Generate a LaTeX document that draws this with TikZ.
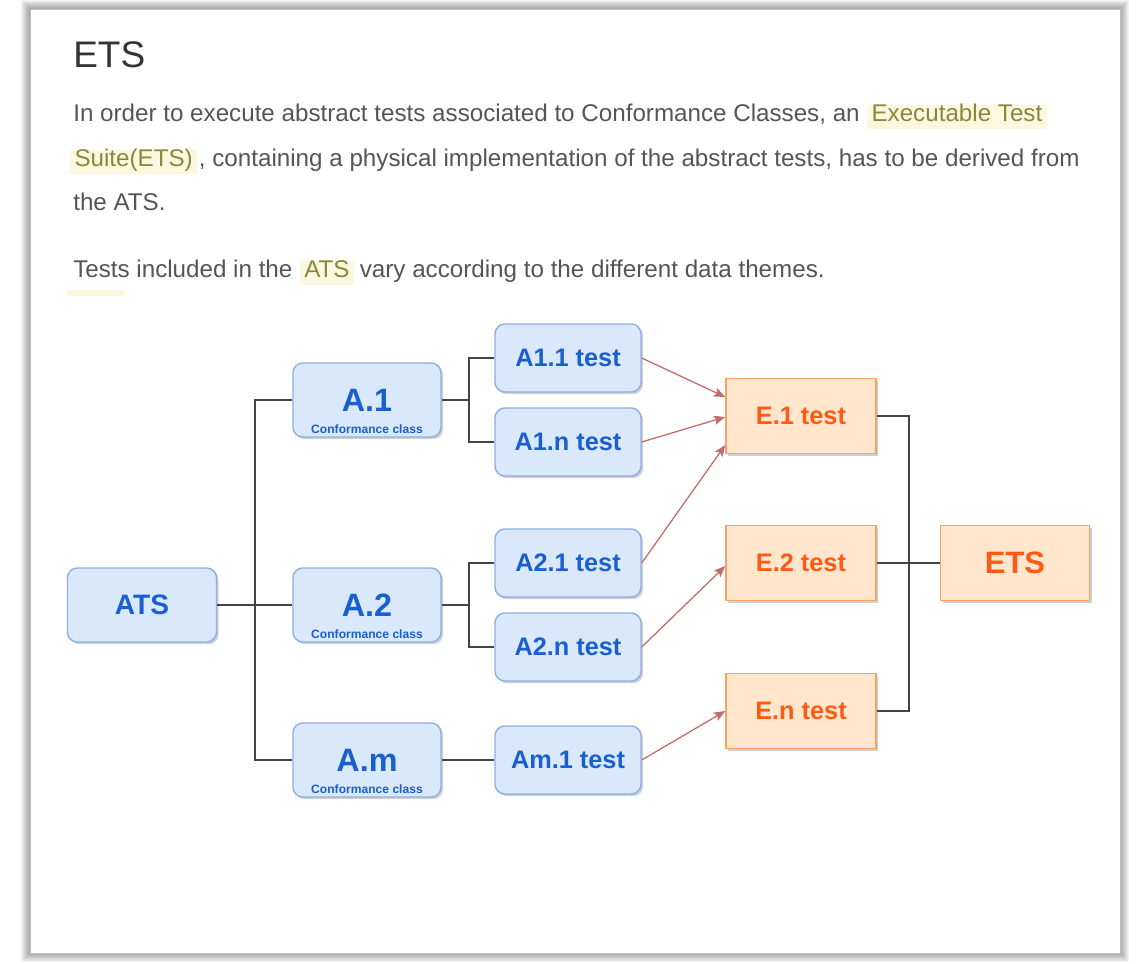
\documentclass[tikz,border=0pt]{standalone}
\usepackage{fontspec}
\setmainfont{Liberation Sans}
\usetikzlibrary{arrows.meta,calc,shadows}

\definecolor{bluefill}{HTML}{DAE8FC}
\definecolor{blueline}{HTML}{8DB0E4}
\definecolor{bluetext}{HTML}{1A5FD0}
\definecolor{orfill}{HTML}{FFE6CC}
\definecolor{orline}{HTML}{F5A262}
\definecolor{ortext}{HTML}{FF5A14}
\definecolor{flowred}{HTML}{C46C6C}
\definecolor{linkgray}{HTML}{444444}
\definecolor{bodygray}{HTML}{555555}
\definecolor{headgray}{HTML}{333333}
\definecolor{hlfill}{HTML}{FCF7DF}
\definecolor{hltext}{HTML}{8A883A}

\begin{document}
\begin{tikzpicture}[x=0.025cm,y=-0.025cm,
  font={\fontsize{17.2pt}{20}\selectfont},
  body/.style={anchor=base west, inner sep=0pt, text=bodygray},
  hl/.style={anchor=base west, fill=hlfill, text=hltext, inner xsep=3pt,
    inner ysep=0pt, text height=1.2em, text depth=0.5em},
  nshadow/.style={drop shadow={shadow xshift=1.5pt, shadow yshift=-1.5pt,
    opacity=0.3, fill=black!60}},
  bluebox/.style={draw=blueline, fill=bluefill, line width=1pt, text=bluetext,
    rounded corners=7pt, nshadow},
  orbox/.style={draw=orline, fill=orfill, line width=1pt, text=ortext, nshadow},
  ats/.style={bluebox, minimum width=3.725cm, minimum height=1.85cm,
    font=\bfseries\fontsize{20pt}{20}\selectfont},
  cls/.style={bluebox, minimum width=3.7cm, minimum height=1.85cm,
    font=\bfseries\fontsize{23pt}{23}\selectfont},
  conf/.style={anchor=south, inner sep=3pt, text=bluetext,
    font=\bfseries\fontsize{8.6pt}{9}\selectfont},
  test/.style={bluebox, minimum width=3.65cm, minimum height=1.7cm,
    font=\bfseries\fontsize{18pt}{18}\selectfont},
  etest/.style={orbox, minimum width=3.75cm, minimum height=1.875cm,
    font=\bfseries\fontsize{18pt}{18}\selectfont},
  ets/.style={orbox, minimum width=3.725cm, minimum height=1.875cm,
    font=\bfseries\fontsize{22pt}{22}\selectfont},
  link/.style={linkgray, line width=1.1pt},
  flow/.style={flowred, line width=0.9pt,
    -{Stealth[length=8pt,width=6.5pt,inset=1.5pt]}}
  ]
  \useasboundingbox (0,0) rectangle (1136,964);

  % card and its shadow
  \foreach \d in {1,...,9}
    \fill[black, opacity=0.045] (30-\d,9-\d) rectangle (1120+\d,953+\d);
  \fill[white] (30,9) rectangle (1120,953);
  \draw[black!25, line width=0.4pt] (30,9) rectangle (1120,953);

  % heading and text
  \node[anchor=base west, inner sep=0pt, text=headgray,
    font=\fontsize{26.3pt}{30}\selectfont] (title) at (73,68) {ETS};
  \node[body] (l1a) at (73,122) {In order to execute abstract tests associated to Conformance Classes, an};
  \node[hl] (l1b) at ([xshift=5pt]l1a.base east) {Executable Test};
  \node[hl] (l2a) at (70,167) {Suite(ETS)};
  \node[body] (l2b) at ([xshift=1pt]l2a.base east) {, containing a physical implementation of the abstract tests, has to be derived from};
  \node[body] (l3) at (73,211) {the ATS.};
  \node[body] (l4a) at (73,278) {Tests included in the};
  \node[hl] (l4b) at ([xshift=5pt]l4a.base east) {ATS};
  \node[body] (l4c) at ([xshift=4pt]l4b.base east) {vary according to the different data themes.};
  \fill[hlfill] (67,290) rectangle (125,296);

  % abstract test suite
  \node[ats] (ATS) at (142,605) {ATS};
  \node[cls] (A1) at (367,400) {A.1};
  \node[cls] (A2) at (367,605) {A.2};
  \node[cls] (Am) at (367,760) {A.m};
  \node[conf] (A1c) at (A1.south) {Conformance class};
  \node[conf] (A2c) at (A2.south) {Conformance class};
  \node[conf] (Amc) at (Am.south) {Conformance class};

  \node[test] (A11) at (568,358) {A1.1 test};
  \node[test] (A1n) at (568,442) {A1.n test};
  \node[test] (A21) at (568,563) {A2.1 test};
  \node[test] (A2n) at (568,647) {A2.n test};
  \node[test] (Am1) at (568,760) {Am.1 test};

  % executable test suite
  \node[etest] (E1) at (801,416) {E.1 test};
  \node[etest] (E2) at (801,563) {E.2 test};
  \node[etest] (En) at (801,711) {E.n test};
  \node[ets] (ETS) at (1015,563) {ETS};

  % tree links
  \coordinate (busA) at ($(ATS.east)+(38,0)$);
  \coordinate (bus1) at ($(A1.east)+(27,0)$);
  \coordinate (bus2) at ($(A2.east)+(27,0)$);
  \coordinate (busE) at ($(E2.east)+(32,0)$);
  \draw[link] (ATS.east) -- (A2.west);
  \draw[link] (A1.west) -| (busA) |- (Am.west);
  \draw[link] (A1.east) -- (bus1);
  \draw[link] (A11.west) -| (bus1) |- (A1n.west);
  \draw[link] (A2.east) -- (bus2);
  \draw[link] (A21.west) -| (bus2) |- (A2n.west);
  \draw[link] (Am.east) -- (Am1.west);
  \draw[link] (E1.east) -| (busE) |- (En.east);
  \draw[link] (E2.east) -- (ETS.west);

  % derived tests
  \draw[flow] (A11.east) -- ($(E1.west)+(0,-19)$);
  \draw[flow] (A1n.east) -- ($(E1.west)+(0,1)$);
  \draw[flow] (A21.east) -- ($(E1.west)+(0,29)$);
  \draw[flow] (A2n.east) -- ($(E2.west)+(0,3)$);
  \draw[flow] (Am1.east) -- (En.west);
\end{tikzpicture}
\end{document}
